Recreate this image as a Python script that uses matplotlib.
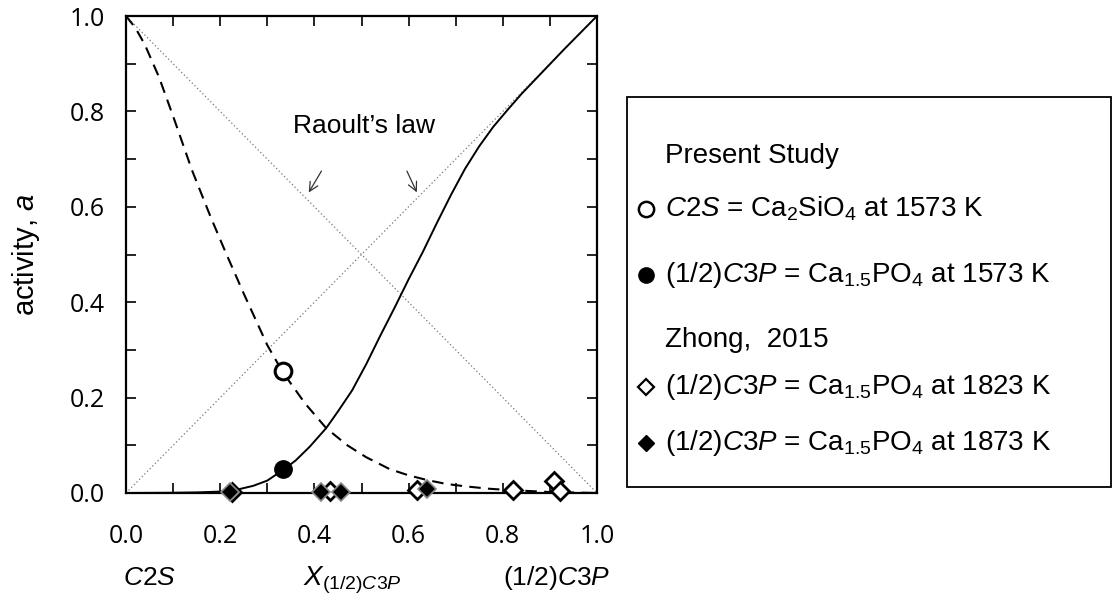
import matplotlib
matplotlib.use("Agg")
import matplotlib.pyplot as plt
from matplotlib.lines import Line2D
from matplotlib.patches import Rectangle

# ---- data ----
x_c2s_curve = [0.0, 0.02, 0.04, 0.07, 0.10, 0.14, 0.18, 0.21, 0.25, 0.30, 0.333, 0.38,
               0.425, 0.47, 0.51, 0.56, 0.60, 0.64, 0.68, 0.72, 0.77, 0.815, 0.86, 0.90, 0.95, 1.0]
a_c2s_curve = [1.0, 0.975, 0.94, 0.872, 0.79, 0.677, 0.578, 0.508, 0.418, 0.31, 0.253, 0.188,
               0.136, 0.10, 0.075, 0.05, 0.037, 0.027, 0.019, 0.014, 0.009, 0.006, 0.004, 0.002, 0.001, 0.0]

x_c3p_curve = [0.0, 0.05, 0.10, 0.15, 0.20, 0.24, 0.27, 0.30, 0.333, 0.36, 0.39, 0.425,
               0.45, 0.48, 0.51, 0.54, 0.57, 0.60, 0.63, 0.66, 0.69, 0.72, 0.75, 0.78,
               0.81, 0.84, 0.87, 0.90, 0.93, 0.96, 1.0]
a_c3p_curve = [0.0, 0.0002, 0.0005, 0.0012, 0.003, 0.008, 0.015, 0.026, 0.048, 0.068, 0.097, 0.136,
               0.171, 0.215, 0.27, 0.33, 0.388, 0.448, 0.505, 0.566, 0.625, 0.68, 0.727, 0.768,
               0.803, 0.837, 0.868, 0.899, 0.93, 0.96, 1.0]

raoult_x = [0.0, 1.0]
raoult_c2s = [1.0, 0.0]
raoult_c3p = [0.0, 1.0]

present_c2s_x = [0.333]
present_c2s_a = [0.255]
present_c3p_x = [0.333]
present_c3p_a = [0.050]

zhong1823_x = [0.225, 0.433, 0.618, 0.822, 0.909, 0.921]
zhong1823_a = [0.003, 0.005, 0.006, 0.006, 0.026, 0.004]
zhong1873_x = [0.221, 0.415, 0.456, 0.639]
zhong1873_a = [0.003, 0.003, 0.003, 0.008]

xticks = [0.0, 0.2, 0.4, 0.6, 0.8, 1.0]
yticks = [0.0, 0.2, 0.4, 0.6, 0.8, 1.0]
minor_ticks = [0.1, 0.3, 0.5, 0.7, 0.9]

legend_labels = [
    "Present Study",
    r"$C2S$ = Ca$_2$SiO$_4$ at 1573 K",
    r"(1/2)$C3P$ = Ca$_{1.5}$PO$_4$ at 1573 K",
    "Zhong,  2015",
    r"(1/2)$C3P$ = Ca$_{1.5}$PO$_4$ at 1823 K",
    r"(1/2)$C3P$ = Ca$_{1.5}$PO$_4$ at 1873 K",
]

plt.rcParams['mathtext.fontset'] = 'custom'
plt.rcParams['mathtext.rm'] = 'Liberation Sans'
plt.rcParams['mathtext.it'] = 'Liberation Sans:italic'
plt.rcParams['font.family'] = ['Liberation Sans', 'DejaVu Sans']

W, H = 1118, 599
fig = plt.figure(figsize=(W / 100, H / 100), dpi=100)

def fx(px):
    return px / W

def fy(py):
    return 1 - py / H

ax = fig.add_axes([fx(126), fy(493), fx(597) - fx(126), fy(16) - fy(493)])

# Raoult's law
ax.plot(raoult_x, raoult_c2s, color='#777777', lw=0.9, ls=(0, (1, 2)), zorder=1)
ax.plot(raoult_x, raoult_c3p, color='#777777', lw=0.9, ls=(0, (1, 2)), zorder=1)

# curves
ax.plot(x_c2s_curve, a_c2s_curve, color='black', lw=1.5, ls=(0, (5.5, 3.5)), zorder=2)
ax.plot(x_c3p_curve, a_c3p_curve, color='black', lw=1.4, ls='-', zorder=2)

# data points
ax.plot(zhong1823_x, zhong1823_a, ls='none', marker='D', ms=9,
        mfc='white', mec='black', mew=2.0, zorder=4, clip_on=False)
ax.plot(zhong1873_x, zhong1873_a, ls='none', marker='D', ms=9,
        mfc='black', mec='#888888', mew=1.2, zorder=5, clip_on=False)
ax.plot(present_c2s_x, present_c2s_a, ls='none', marker='o', ms=12,
        mfc='white', mec='black', mew=2.2, zorder=6)
ax.plot(present_c3p_x, present_c3p_a, ls='none', marker='o', ms=12.5,
        mfc='black', mec='black', mew=1.0, zorder=6)

ax.set_xlim(0, 1)
ax.set_ylim(0, 1)
ax.set_xticks(xticks)
ax.set_yticks(yticks)
ax.set_xticks(minor_ticks, minor=True)
ax.set_yticks(minor_ticks, minor=True)
ax.set_xticklabels([f"{v:.1f}" for v in xticks], fontfamily='Open Sans', fontsize=18)
ax.set_yticklabels([f"{v:.1f}" for v in yticks], fontfamily='Open Sans', fontsize=18)
ax.tick_params(which='both', direction='in', length=7, width=1.2,
               top=True, right=True, colors='black')
ax.tick_params(axis='x', which='major', pad=22)
ax.tick_params(axis='y', which='major', pad=15)
for s in ax.spines.values():
    s.set_linewidth(1.6)

ax.set_ylabel(r"activity, $a$", fontsize=21, labelpad=20)

# Raoult's law annotation
ax.text(0.505, 0.77, "Raoult\u2019s law", fontsize=19, ha='center', va='center',
        transform=ax.transAxes)
ax.annotate("", xy=(0.385, 0.625), xytext=(0.418, 0.68),
            arrowprops=dict(arrowstyle='->', color='#333333', lw=0.9,
                            mutation_scale=16))
ax.annotate("", xy=(0.62, 0.625), xytext=(0.594, 0.68),
            arrowprops=dict(arrowstyle='->', color='#333333', lw=0.9,
                            mutation_scale=16))

# bottom labels
fig.text(fx(150), fy(578), r"$C2S$", fontsize=19, ha='center', va='center')
fig.text(fx(352), fy(580), r"$X_{(1/2)C3P}$", fontsize=20, ha='center', va='center')
fig.text(fx(557), fy(578), r"(1/2)$C3P$", fontsize=19, ha='center', va='center')

# legend box (manual)
box = Rectangle((fx(627), fy(487)), fx(1111) - fx(627), fy(97) - fy(487),
                transform=fig.transFigure, fill=False, ec='black', lw=1.3)
fig.patches.append(box)

text_x = fx(665)
mark_x = fx(646)
rows_y = [156, 209, 275, 340, 387, 443]
marker_specs = [
    None,
    dict(marker='o', ms=11, mfc='white', mec='black', mew=1.8),
    dict(marker='o', ms=11, mfc='black', mec='black', mew=1.0),
    None,
    dict(marker='D', ms=8.5, mfc='white', mec='black', mew=1.6),
    dict(marker='D', ms=8.5, mfc='black', mec='black', mew=1.0),
]
for lab, yy, spec in zip(legend_labels, rows_y, marker_specs):
    fig.text(text_x, fy(yy), lab, fontsize=20, ha='left', va='center')
    if spec is not None:
        fig.add_artist(Line2D([mark_x], [fy(yy)], transform=fig.transFigure,
                              ls='none', **spec))

fig.savefig("out.png", dpi=100)
